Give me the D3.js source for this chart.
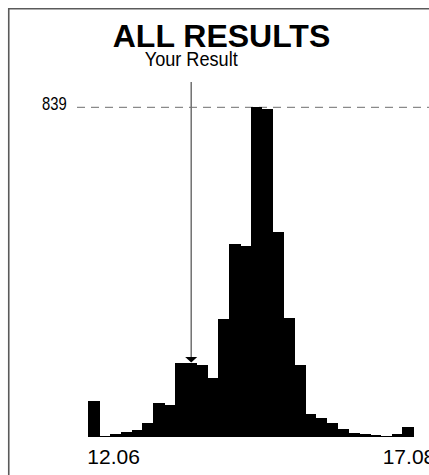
<!DOCTYPE html>
<html>
<head>
<meta charset="utf-8">
<script src="https://cdn.jsdelivr.net/npm/d3@7"></script>
<style>
  html, body { margin: 0; padding: 0; background: #fff; overflow: hidden; }
  svg { display: block; }
</style>
</head>
<body>
<div id="chart"></div>
<script>
// ---- data ----
const binIndex = d3.range(30);
const counts = [92, 3, 9, 14, 18, 36, 86, 83, 190, 190, 185, 151, 300, 491, 487,
                839, 835, 522, 304, 185, 60, 48, 36, 22, 11, 8, 5, 3, 8, 26];
const xTickLabels = ["12.06", "17.08"];
const maxLabel = "839";
const titleText = "ALL RESULTS";
const markerLabel = "Your Result";
const markerBin = 9;

// ---- layout ----
const W = 429, H = 475;
const FONT = "'Liberation Sans', Arial, Helvetica, sans-serif";
const svg = d3.select("#chart").append("svg").attr("width", W).attr("height", H);

const x = d3.scaleBand().domain(binIndex).range([88.3, 413.3]).padding(0);
const y = d3.scaleLinear().domain([0, 839]).range([437.3, 107.3]);

// frame (left and top edges visible)
svg.append("path")
  .attr("d", `M8.75,${H} V8.75 H${W}`)
  .attr("fill", "none").attr("stroke", "#5a5a5a").attr("stroke-width", 1.6);

// title
svg.append("text")
  .attr("x", 221.5).attr("y", 46.5)
  .attr("text-anchor", "middle")
  .attr("font-family", FONT)
  .attr("font-weight", "bold").attr("font-size", 32)
  .attr("fill", "#000")
  .text(titleText);

// max dashed line
svg.append("line")
  .attr("x1", 77).attr("x2", W)
  .attr("y1", y(839)).attr("y2", y(839))
  .attr("stroke", "#8a8a8a").attr("stroke-width", 1.3)
  .attr("stroke-dasharray", "8,6");

svg.append("g")
  .attr("transform", `translate(66.7,110) scale(0.8,1)`)
  .append("text")
  .attr("text-anchor", "end")
  .attr("font-family", FONT)
  .attr("font-size", 18.5)
  .attr("fill", "#000")
  .text(maxLabel);

// bars
svg.append("g")
  .attr("shape-rendering", "crispEdges")
  .selectAll("rect")
  .data(counts)
  .join("rect")
  .attr("x", (d, i) => x(i))
  .attr("width", x.bandwidth() + 0.6)
  .attr("y", d => y(d))
  .attr("height", d => y(0) - y(d))
  .attr("fill", "#000");

// marker arrow
const mx = x(markerBin) + x.bandwidth() / 2;
const tipY = y(counts[markerBin]);
svg.append("line")
  .attr("x1", mx).attr("x2", mx)
  .attr("y1", 82).attr("y2", tipY - 5)
  .attr("stroke", "#707070").attr("stroke-width", 1.5);
svg.append("path")
  .attr("d", `M${mx - 6},${tipY - 5.5} L${mx + 6},${tipY - 5.5} L${mx},${tipY} Z`)
  .attr("fill", "#000");

svg.append("g")
  .attr("transform", `translate(${mx},66) scale(0.93,1)`)
  .append("text")
  .attr("text-anchor", "middle")
  .attr("font-family", FONT)
  .attr("font-size", 19.5)
  .attr("fill", "#000")
  .text(markerLabel);

// x labels
svg.append("text")
  .attr("x", x(0) - 1).attr("y", 464)
  .attr("text-anchor", "start")
  .attr("font-family", FONT)
  .attr("font-size", 21)
  .attr("fill", "#000")
  .text(xTickLabels[0]);
svg.append("text")
  .attr("x", 382.7).attr("y", 464)
  .attr("text-anchor", "start")
  .attr("font-family", FONT)
  .attr("font-size", 21)
  .attr("fill", "#000")
  .text(xTickLabels[1]);
</script>
</body>
</html>
